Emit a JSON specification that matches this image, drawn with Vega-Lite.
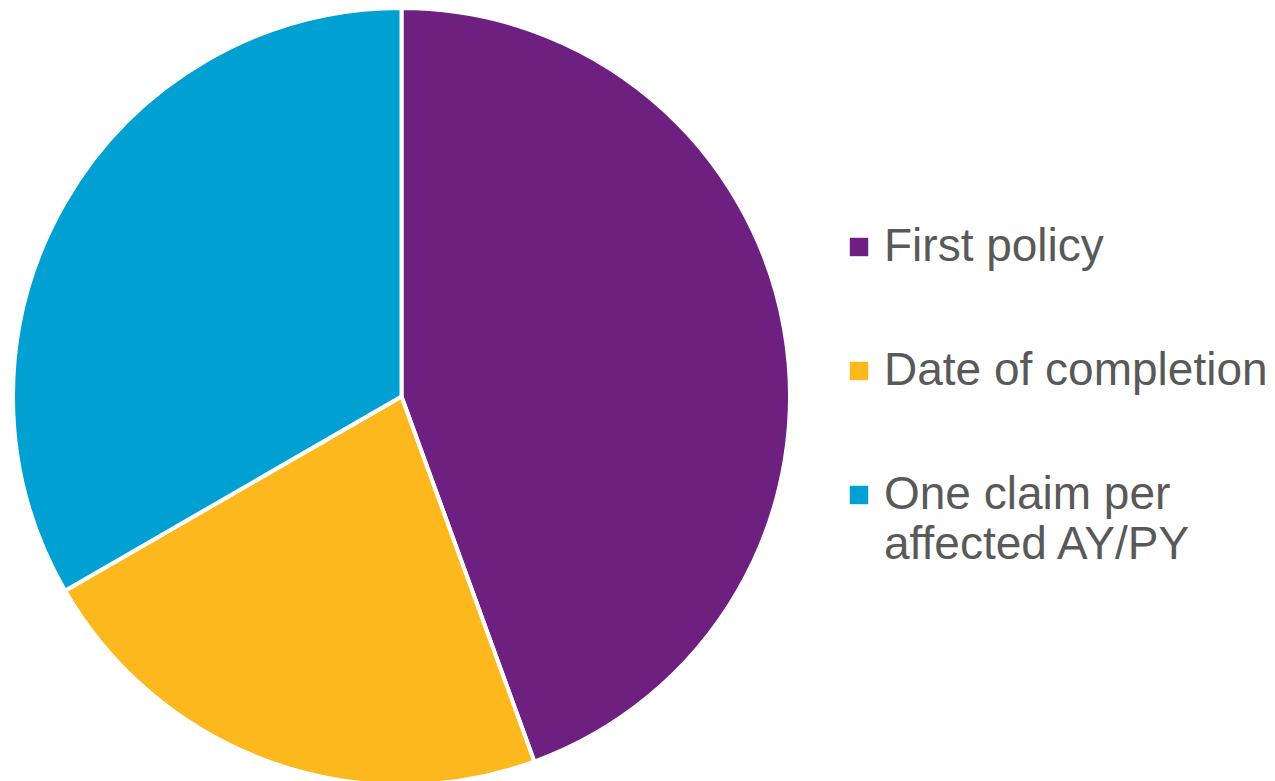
{
  "$schema": "https://vega.github.io/schema/vega-lite/v6.json",
  "width": 803,
  "height": 787,
  "padding": 0,
  "background": "white",
  "data": {"values": [
    {"category": "First policy", "value": 4, "rank": 1},
    {"category": "Date of completion", "value": 2, "rank": 2},
    {"category": "One claim per affected AY/PY", "value": 3, "rank": 3}
  ]},
  "mark": {"type": "arc", "stroke": "white", "strokeWidth": 4, "radius": 388.5},
  "encoding": {
    "theta": {"field": "value", "type": "quantitative", "stack": true},
    "order": {"field": "rank", "type": "quantitative"},
    "color": {
      "field": "category",
      "type": "nominal",
      "sort": ["First policy", "Date of completion", "One claim per affected AY/PY"],
      "scale": {
        "domain": ["First policy", "Date of completion", "One claim per affected AY/PY"],
        "range": ["#6E2081", "#FDB81E", "#00A0D2"]
      },
      "legend": {
        "orient": "none",
        "legendX": 836,
        "legendY": 221,
        "title": null,
        "symbolType": "square",
        "symbolSize": 340,
        "symbolStrokeWidth": 0,
        "labelFontSize": 46,
        "labelFont": "Liberation Sans",
        "labelColor": "#595959",
        "labelLimit": 600,
        "labelOffset": 2,
        "rowPadding": 78,
        "labelExpr": "datum.label == 'One claim per affected AY/PY' ? ['One claim per', 'affected AY/PY'] : datum.label"
      }
    }
  },
  "config": {"view": {"stroke": null}, "style": {"guide-label": {"lineHeight": 50}}}
}
